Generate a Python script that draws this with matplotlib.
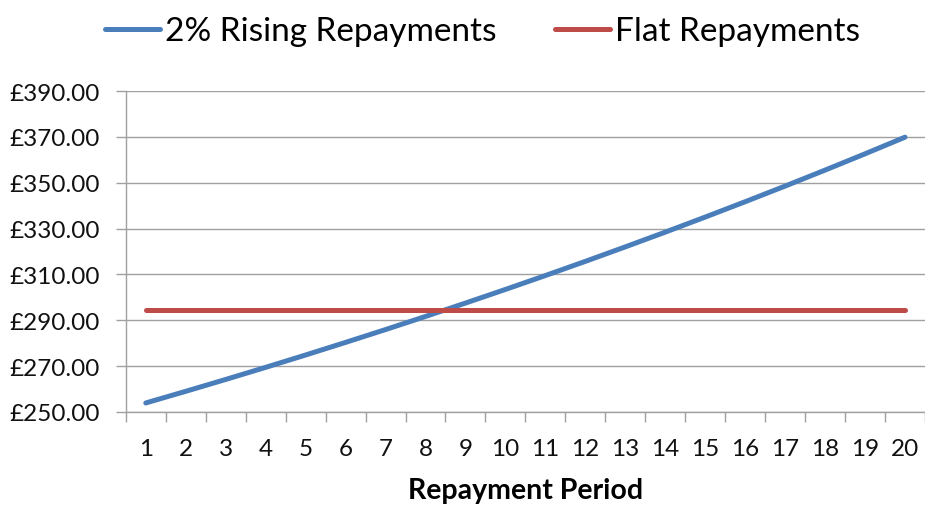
import matplotlib.pyplot as plt
from matplotlib.ticker import FuncFormatter

# Repayment per period, rising 2% each period vs. a flat repayment
periods = list(range(1, 21))
rising = [253.90, 258.98, 264.16, 269.44, 274.83, 280.33, 285.93, 291.65, 297.49, 303.44,
          309.50, 315.69, 322.01, 328.45, 335.02, 341.72, 348.55, 355.52, 362.63, 369.89]
flat = [294.30] * 20

BLUE = '#4a7ebb'
RED = '#be4b48'
GRID = '#a0a0a0'

plt.rcParams['font.family'] = ['Lato', 'DejaVu Sans']

fig = plt.figure(figsize=(9.25, 5.06), dpi=100)
ax = fig.add_axes([0.136, 0.184, 0.864, 0.634])

ax.plot(periods, rising, color=BLUE, lw=3.6, solid_capstyle='round', label='2% Rising Repayments')
ax.plot(periods, flat, color=RED, lw=3.6, solid_capstyle='round', label='Flat Repayments')

ax.set_xlim(0.5, 20.5)
ax.set_ylim(250, 390)
ax.set_yticks(range(250, 391, 20))
ax.yaxis.set_major_formatter(FuncFormatter(lambda v, p: f'£{v:.2f}'))
ax.set_xticks(periods)
ax.set_xticks([p + 0.5 for p in range(0, 21)], minor=True)

ax.grid(axis='y', color=GRID, lw=1.0)
ax.set_axisbelow(True)
for s in ['top', 'right']:
    ax.spines[s].set_visible(False)
for s in ['left', 'bottom']:
    ax.spines[s].set_color(GRID)
    ax.spines[s].set_linewidth(1.0)

ax.tick_params(axis='y', length=7, color=GRID, width=1.0, pad=12, labelsize=17.5, labelcolor='#111111')
ax.tick_params(axis='x', which='major', length=0, pad=19, labelsize=17.5, labelcolor='#111111')
ax.tick_params(axis='x', which='minor', length=7, color=GRID, width=1.0)

ax.set_xlabel('Repayment Period', fontsize=20.5, fontweight='bold', labelpad=13)

fig.legend(loc='upper center', bbox_to_anchor=(0.522, 1.025), ncol=2, frameon=False,
           fontsize=24, handlelength=1.65, handletextpad=0.15, columnspacing=1.75)

fig.savefig('out.png', dpi=100)
